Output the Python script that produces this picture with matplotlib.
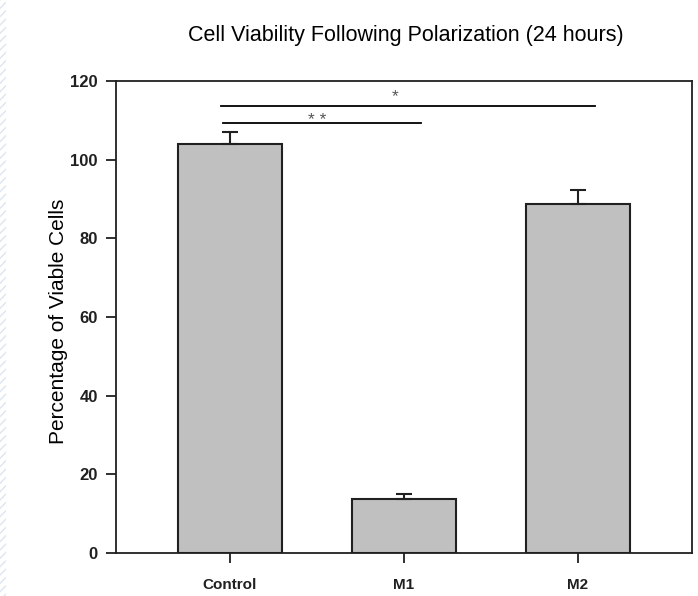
import matplotlib
matplotlib.use("Agg")
import matplotlib.pyplot as plt
import matplotlib.patches as mpatches

categories = ["Control", "M1", "M2"]
values = [104.0, 13.7, 88.8]
errors = [3.0, 1.2, 3.5]
yticks = [0, 20, 40, 60, 80, 100, 120]
title = "Cell Viability Following Polarization (24 hours)"
ylabel = "Percentage of Viable Cells"
# significance brackets: (x_start, x_end, y, label, label_x, label_y)
sig_lines = [(-0.05, 2.1, 113.6, "*", 0.95, 116.0), (-0.04, 1.1, 109.4, "* *", 0.5, 110.0)]

plt.rcParams['font.family'] = ['Liberation Sans', 'DejaVu Sans']
fig = plt.figure(figsize=(6.98, 5.96), dpi=100)
ax = fig.add_axes([0.1662, 0.0721, 0.8252, 0.792])

x = list(range(len(categories)))
ax.bar(x, values, width=0.6, color="#c0c0c0", edgecolor="#202020", linewidth=1.5, zorder=2)
ax.errorbar(x, values, yerr=[[0]*len(errors), errors], fmt="none", ecolor="#202020",
            elinewidth=1.5, capsize=6, capthick=1.5, zorder=3)

for xs, xe, y, lab, lx, ly in sig_lines:
    ax.plot([xs, xe], [y, y], color="black", linewidth=1.3)
    ax.text(lx, ly, lab, ha="center", va="center", fontsize=12.5, color="#555555")

ax.set_xlim(-0.655, 2.655)
ax.set_ylim(0, 120)
ax.set_yticks(yticks)
ax.set_yticklabels([str(t) for t in yticks], fontweight="bold", fontsize=12)
ax.set_xticks(x)
ax.set_xticklabels(categories, fontweight="bold", fontsize=11)
ax.tick_params(axis="both", direction="out", length=7, width=1.3, colors="#202020")
ax.tick_params(axis="y", pad=6)
ax.tick_params(axis="x", pad=11)
for s in ax.spines.values():
    s.set_linewidth(1.3)
    s.set_color("#202020")
ax.set_ylabel(ylabel, fontsize=15)
ax.yaxis.set_label_coords(-0.084, 0.49)
fig.text(0.582, 0.94, title, ha="center", va="center", fontsize=15.5)

# slide background hatched strip at left edge
fig.patches.append(mpatches.Rectangle((0, 0), 0.008, 1, transform=fig.transFigure,
                                      facecolor="none", edgecolor="#dbe6f3", hatch="////", linewidth=0))

fig.savefig("out.png", dpi=100)
